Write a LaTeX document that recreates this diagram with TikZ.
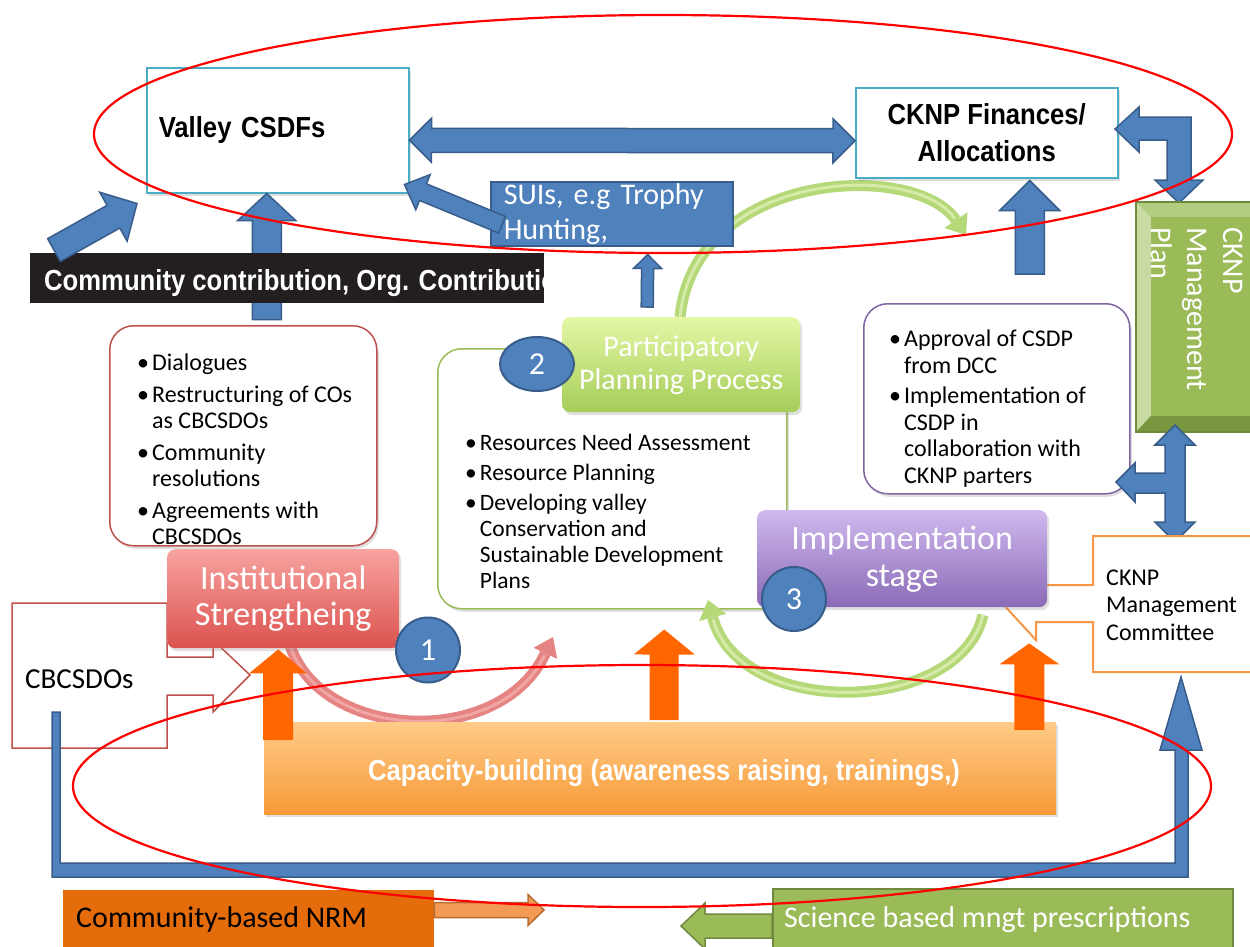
\documentclass[tikz,border=0pt]{standalone}
\usepackage{fontspec}
\setmainfont{Carlito}
\newfontfamily\headfont[FakeStretch=0.885]{Liberation Sans}
\usetikzlibrary{calc, shapes.geometric, arrows.meta, shadows}

\definecolor{cbblue}{HTML}{4F81BD}
\definecolor{cbbluedark}{HTML}{385D8A}
\definecolor{cyanline}{HTML}{4BACC6}
\definecolor{redline}{HTML}{C0504D}
\definecolor{greenline}{HTML}{9BBB59}
\definecolor{purpleline}{HTML}{8064A2}
\definecolor{orangeline}{HTML}{F79646}
\definecolor{hotorange}{HTML}{FF6600}
\definecolor{nrmorange}{HTML}{E46C0A}
\definecolor{nrmarrow}{HTML}{F39A55}
\definecolor{nrmarrowdark}{HTML}{B66D31}
\definecolor{sciborder}{HTML}{71893F}
\definecolor{bardark}{HTML}{231F20}
\definecolor{insttop}{HTML}{F7A3A0}
\definecolor{instbot}{HTML}{DC524E}
\definecolor{parttop}{HTML}{E4F7A6}
\definecolor{partbot}{HTML}{A5CD58}
\definecolor{impltop}{HTML}{CFB9EE}
\definecolor{implbot}{HTML}{8A6AB6}
\definecolor{captop}{HTML}{FFCB88}
\definecolor{capbot}{HTML}{F79A38}
\definecolor{arcred}{HTML}{E58482}
\definecolor{arcredlight}{HTML}{F0A6A4}
\definecolor{arcgreen}{HTML}{B5D878}
\definecolor{arcgreenlight}{HTML}{D6EBA8}
\definecolor{planedge}{HTML}{6E8B3D}
\definecolor{planlight}{HTML}{B3CC80}
\definecolor{planpale}{HTML}{C8DBA3}
\definecolor{plandark}{HTML}{7A9740}

\newcommand\setsz[2]{\fontsize{#1}{#2}\selectfont}

% block arrow: [style] from, to, shaft half width, head half width, head length
\newcommand\blockarrow[6][]{%
  \coordinate (ba-a) at (#2);
  \coordinate (ba-b) at (#3);
  \coordinate (ba-h) at ($(ba-b)!#6!(ba-a)$);
  \filldraw[blockarrow,#1]
    ($(ba-a)!#4!90:(ba-b)$) -- ($(ba-h)!#4!-90:(ba-a)$) -- ($(ba-h)!#5!-90:(ba-a)$)
    -- (ba-b) -- ($(ba-h)!#5!90:(ba-a)$) -- ($(ba-h)!#4!90:(ba-a)$)
    -- ($(ba-a)!#4!-90:(ba-b)$) -- cycle;
}
% same with a head at both ends
\newcommand\dblockarrow[6][]{%
  \coordinate (ba-a) at (#2);
  \coordinate (ba-b) at (#3);
  \coordinate (ba-h) at ($(ba-b)!#6!(ba-a)$);
  \coordinate (ba-t) at ($(ba-a)!#6!(ba-b)$);
  \filldraw[blockarrow,#1]
    (ba-a) -- ($(ba-t)!#5!90:(ba-b)$) -- ($(ba-t)!#4!90:(ba-b)$)
    -- ($(ba-h)!#4!-90:(ba-a)$) -- ($(ba-h)!#5!-90:(ba-a)$) -- (ba-b)
    -- ($(ba-h)!#5!90:(ba-a)$) -- ($(ba-h)!#4!90:(ba-a)$)
    -- ($(ba-t)!#4!-90:(ba-b)$) -- ($(ba-t)!#5!-90:(ba-b)$) -- cycle;
}

\tikzset{
  softshadow/.style={drop shadow={shadow xshift=2pt, shadow yshift=-3pt, opacity=.25}},
  box/.style={draw, fill=white, anchor=north west, inner sep=0pt},
  listbox/.style={box, line width=1.5pt, rounded corners=24pt, softshadow},
  stage/.style={box, draw=none, rounded corners=8pt, text=white, align=center, softshadow},
  numdot/.style={ellipse, fill=cbblue, draw=cbbluedark, line width=2pt, text=white,
    inner sep=0pt, font=\setsz{32}{32}},
  head/.style={font=\headfont\bfseries\setsz{29}{37}},
  listtext/.style={anchor=north west, inner sep=0pt, font=\setsz{24}{26.5}},
  blockarrow/.style={fill=cbblue, draw=cbbluedark, line width=1.5pt},
  flatarrow/.style={blockarrow, fill=hotorange, draw=none},
  cyclearc/.style={line width=11pt},
  redring/.style={draw=red, line width=2.2pt},
}

\begin{document}
\begin{tikzpicture}[x=1pt, y=-1pt]
\useasboundingbox (0,0) rectangle (1250,946);
\fill[white] (0,0) rectangle (1250,946);

% cycle arc: planning -> implementation
\draw[cyclearc, draw=arcgreen, -{Triangle[length=18pt, width=28pt, line width=0pt]}]
  (680,317) .. controls (695,170) and (915,160) .. (966,235);
\draw[line width=3pt, draw=arcgreenlight, shorten >=20pt]
  (680,317) .. controls (695,170) and (915,160) .. (966,235);

% top row
\node[box, draw=cyanline, line width=1.5pt, minimum width=262pt, minimum height=125pt,
  text width=238pt, align=left, head, softshadow] (valley) at (146,67) {Valley CSDFs};
\node[box, draw=cyanline, line width=1.5pt, minimum width=262pt, minimum height=90pt,
  align=center, head, softshadow] (fin) at (855,87) {CKNP Finances/\\Allocations};
\dblockarrow{$(valley.east)+(0,10)$}{$(fin.west)+(0,8)$}{12pt}{22pt}{22pt}

\node[box, fill=cbblue, draw=cbbluedark, line width=1.5pt, minimum width=242pt,
  minimum height=64pt, text width=216pt, align=left, text=white,
  font=\setsz{30}{35}] (sui) at (490,181) {SUIs, e.g Trophy\\Hunting,};
\blockarrow{$(sui.west)+(12,11)$}{$(valley.south east)+(-5,-9)$}{9pt}{19pt}{20pt}

% contributions into the valley funds
\blockarrow{$(valley.south)+(-11,126)$}{$(valley.south)+(-11,0)$}{14.5pt}{29pt}{27pt}
\node[box, fill=bardark, draw=none, minimum width=514pt, minimum height=50pt] (bar) at (30,253) {};
\begin{scope}
  \clip (bar.north west) rectangle (bar.south east);
  \node[head, text=white, anchor=base west, inner sep=0pt] (bartext) at (44,290)
    {Community contribution, Org. Contribution};
\end{scope}
\blockarrow{$(bar.north west)+(24,-3)$}{$(valley.south west)+(-9,10)$}{13pt}{28pt}{27pt}

% institutional strengthening list
\node[listbox, draw=redline, minimum width=267pt, minimum height=220pt] (dial) at (109,325) {};
\node[listtext] (dialtext) at (137,352) {%
  \begin{tabular}{@{}l@{\hspace{3pt}}l@{}}
  \textbullet & Dialogues\\[5pt]
  \textbullet & Restructuring of COs\\
              & as CBCSDOs\\[5pt]
  \textbullet & Community\\
              & resolutions\\[5pt]
  \textbullet & Agreements with\\
              & CBCSDOs
  \end{tabular}};

% planning list
\node[listbox, draw=greenline, minimum width=349pt, minimum height=260pt] (planbox) at (437,348) {};
\node[listtext, font=\setsz{23.5}{26}] (plantext) at (465,432) {%
  \begin{tabular}{@{}l@{\hspace{3pt}}l@{}}
  \textbullet & Resources Need Assessment\\[4pt]
  \textbullet & Resource Planning\\[4pt]
  \textbullet & Developing valley\\
              & Conservation and\\
              & Sustainable Development\\
              & Plans
  \end{tabular}};
\node[stage, top color=parttop, bottom color=partbot, minimum width=238pt, minimum height=95pt,
  font=\setsz{30}{33}] (part) at (562,317) {Participatory\\Planning Process};
\node[numdot, minimum width=74pt, minimum height=54pt] (two) at (537,364) {2};
\blockarrow{$(part.north)+(-34,-10)$}{$(sui.south)+(36,8)$}{6pt}{14pt}{14pt}

% implementation list
\node[listbox, draw=purpleline, minimum width=266pt, minimum height=190pt] (appr) at (863,303) {};
\node[listtext] (apprtext) at (889,328) {%
  \begin{tabular}{@{}l@{\hspace{3pt}}l@{}}
  \textbullet & Approval of CSDP\\
              & from DCC\\[4pt]
  \textbullet & Implementation of\\
              & CSDP in\\
              & collaboration with\\
              & CKNP parters
  \end{tabular}};
\blockarrow{$(appr.north)+(33,-29)$}{$(fin.south)+(43,2)$}{14.5pt}{30pt}{30pt}

% finances <-> management plan
\filldraw[blockarrow] (1115,129) -- (1139,107) -- (1139,117) -- (1191,117) -- (1191,180)
  -- (1203,180) -- (1179,203) -- (1155,180) -- (1167,180) -- (1167,140) -- (1139,140)
  -- (1139,152) -- cycle;

% management plan block
\fill[planedge] (1136,202) rectangle (1270,432);
\fill[planlight] (1136,202) -- (1270,202) -- (1255,217) -- (1151,217) -- cycle;
\fill[planpale] (1136,202) -- (1151,217) -- (1151,416) -- (1136,432) -- cycle;
\fill[plandark] (1136,432) -- (1151,416) -- (1255,416) -- (1270,432) -- cycle;
\fill[greenline] (1151,217) rectangle (1255,416);
\draw[planedge, line width=1.5pt] (1136,202) rectangle (1270,432);
\node[rotate=-90, anchor=north west, inner sep=0pt, text=white, align=left,
  font=\setsz{30}{36}] (mplantext) at (1243,227) {CKNP\\Management\\Plan};

% three-way arrow: plan, implementation list, committee
\filldraw[blockarrow] (1175,425) -- (1195,445) -- (1185,445) -- (1185,522) -- (1195,522)
  -- (1175,542) -- (1155,522) -- (1165,522) -- (1165,493) -- (1135,493) -- (1135,502)
  -- (1116,482) -- (1135,463) -- (1135,473) -- (1165,473) -- (1165,445) -- (1155,445) -- cycle;

% committee callout
\filldraw[fill=white, draw=orangeline, line width=2pt] (1270,536) -- (1093,536) -- (1093,585)
  -- (1036,585) -- (1036,567) -- (1002,603) -- (1036,640) -- (1036,622) -- (1093,622)
  -- (1093,672) -- (1270,672);
\node[listtext, font=\setsz{24}{27.5}] (commtext) at (1106,566) {%
  \begin{tabular}{@{}l@{}}CKNP\\Management\\Committee\end{tabular}};

% CBCSDOs callout
\filldraw[fill=white, draw=redline, line width=1.5pt] (12,603) -- (167,603) -- (167,657)
  -- (213,657) -- (213,640) -- (250,675) -- (213,712) -- (213,695) -- (167,695)
  -- (167,748) -- (12,748) -- cycle;
\node[anchor=base west, inner sep=0pt, font=\setsz{29}{32}] (cbctext) at (25,688) {CBCSDOs};

% stage 1
\draw[cyclearc, draw=arcred, -{Triangle[length=18pt, width=26pt, line width=0pt]}]
  (290,645) .. controls (320,740) and (500,750) .. (553,637);
\draw[line width=3pt, draw=arcredlight, shorten >=20pt]
  (290,645) .. controls (320,740) and (500,750) .. (553,637);
\node[stage, top color=insttop, bottom color=instbot, minimum width=232pt, minimum height=99pt,
  font=\setsz{34}{36}] (inst) at (167,549) {Institutional\\Strengtheing};
\node[numdot, minimum width=64pt, minimum height=65pt] (one) at (428,650) {1};

% stage 3
\draw[cyclearc, draw=arcgreen, -{Triangle[length=18pt, width=28pt, line width=0pt]}]
  (983,615) .. controls (960,715) and (740,720) .. (708,600);
\draw[line width=3pt, draw=arcgreenlight, shorten >=20pt]
  (983,615) .. controls (960,715) and (740,720) .. (708,600);
\node[stage, top color=impltop, bottom color=implbot, minimum width=290pt, minimum height=97pt,
  font=\setsz{34}{37}] (impl) at (757,510) {Implementation\\stage};
\node[numdot, minimum width=64pt, minimum height=64pt] (three) at (794,599) {3};

% capacity building feeding the three stages
\node[box, draw=none, top color=captop, bottom color=capbot, minimum width=792pt,
  minimum height=92pt, softshadow] (cap) at (264,722) {};
\node[head, text=white, anchor=base, inner sep=0pt] (captext) at (664,780)
  {Capacity-building (awareness raising, trainings,)};
\blockarrow[flatarrow]{$(cap.north west)+(14,18)$}{$(inst.south)+(-5,1)$}{15pt}{29pt}{24pt}
\blockarrow[flatarrow]{$(cap.north)+(4,-2)$}{$(planbox.south)+(52,20)$}{14.5pt}{30.5pt}{25pt}
\blockarrow[flatarrow]{$(cap.north east)+(-27,8)$}{$(impl.south)+(127,36)$}{15pt}{30pt}{21pt}

% feedback from the CBCSDOs to the committee
\filldraw[blockarrow] (52,712) -- (60,712) -- (60,863) -- (1175,863) -- (1175,750)
  -- (1160,750) -- (1181,677) -- (1202,750) -- (1188,750) -- (1188,877) -- (52,877) -- cycle;

% bottom row
\node[box, fill=nrmorange, draw=none, minimum width=371pt, minimum height=70pt] (nrm) at (63,890) {};
\node[anchor=base west, inner sep=0pt, font=\setsz{30}{32}] (nrmtext) at (76,927) {Community-based NRM};
\coordinate (nrm-out) at (544,910);
\blockarrow[fill=nrmarrow, draw=nrmarrowdark]{$(nrm.north east)+(0,20)$}{nrm-out}{7.5pt}{15.5pt}{16pt}

\node[box, fill=greenline, draw=sciborder, line width=1.5pt, minimum width=460pt,
  minimum height=72pt] (sci) at (772,888) {};
\node[anchor=base west, inner sep=0pt, text=white, font=\setsz{30}{32}] (scitext) at (784,927)
  {Science based mngt prescriptions};
\coordinate (sci-out) at (681,926);
\blockarrow[fill=greenline, draw=sciborder]{$(sci.north west)+(0,38)$}{sci-out}{12pt}{23pt}{24pt}

% the two rings
\draw[redring] (663,134) ellipse [x radius=569pt, y radius=119pt];
\draw[redring] (642,786) ellipse [x radius=569pt, y radius=121pt];
\end{tikzpicture}
\end{document}
